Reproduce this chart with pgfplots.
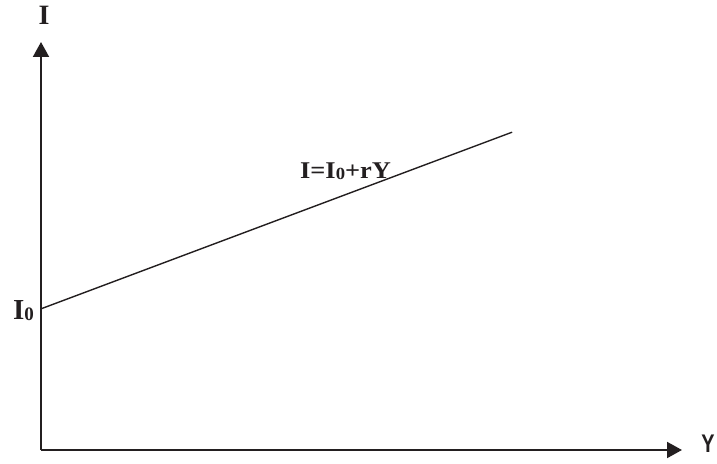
\documentclass[border=0pt]{standalone}
\usepackage{pgfplots}
\pgfplotsset{compat=1.18}
\usepackage{fontspec}
\setmainfont{Liberation Serif}
\setsansfont{Liberation Sans}
\usetikzlibrary{arrows.meta}
\definecolor{ink}{RGB}{35,31,32}
\begin{document}
\begin{tikzpicture}[x=1pt,y=1pt]
\useasboundingbox (0,0) rectangle (717,463);
\begin{axis}[
  at={(41pt,13pt)}, anchor=origin,
  scale only axis, width=641pt, height=408pt,
  xmin=0, xmax=100, ymin=0, ymax=100,
  axis lines=left,
  axis line style={ink, line width=2pt, -{Triangle[length=15pt,width=16pt]}},
  xtick=\empty, ytick=\empty,
  clip=false,
]
\addplot[ink, line width=1.4pt, no marks] coordinates {(0,34.6) (73.5,77.9)};
\node[anchor=base, ink, inner sep=0pt] at (axis cs:0.47,104.2) {\fontsize{28}{30}\selectfont\bfseries I};
\node[anchor=base west, ink, inner sep=0pt] at (axis cs:-4.37,31.9) {\fontsize{29}{30}\selectfont\bfseries I\raisebox{-1pt}{\fontsize{19}{20}\selectfont 0}};
\node[anchor=base west, ink, inner sep=0pt] at (axis cs:40.4,66.5) {\scalebox{1.1}[1]{\fontsize{24}{26}\selectfont\bfseries I=I\raisebox{-1pt}{\fontsize{17}{18}\selectfont 0}+rY}};
\node[anchor=base west, ink, inner sep=0pt] at (axis cs:103.0,-0.49) {\scalebox{0.78}[1]{\fontsize{25.5}{26}\selectfont\sffamily\bfseries Y}};
\end{axis}
\end{tikzpicture}
\end{document}
